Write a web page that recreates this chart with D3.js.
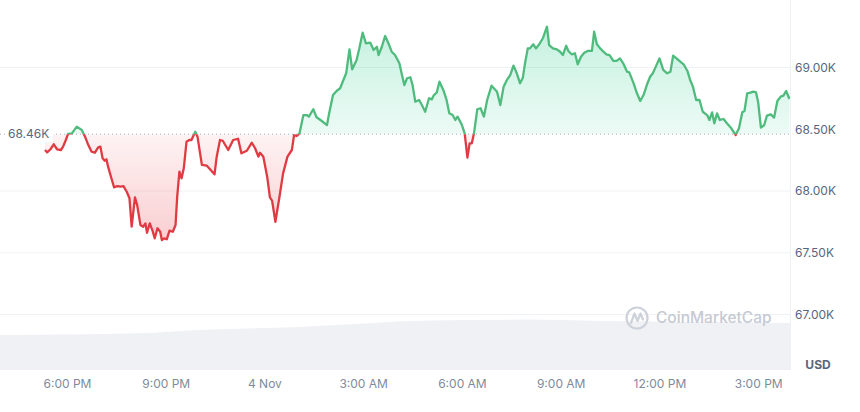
<!DOCTYPE html>
<html>
<head>
<meta charset="utf-8">
<script src="https://cdn.jsdelivr.net/npm/d3@7/dist/d3.min.js"></script>
<style>
  html, body { margin: 0; padding: 0; background: #fff; }
  svg { display: block; font-family: Inter, "Noto Sans", sans-serif; }
</style>
</head>
<body>
<svg id="chart" width="860" height="412"></svg>
<script>
// ---- data (minutes since 3 Nov 00:00 UTC) ----
const times = [1040,1044,1050,1056,1062,1069,1073,1078,1082,1089,1098,1107,1113,1119,1125,1131,1137,1141,1145,1149,1152,1155,1162,1166,1172,1178,1183,1189,1194,1198,1204,1208,1214,1219,1223,1226,1231,1236,1240,1245,1250,1253,1257,1262,1267,1273,1278,1281,1285,1289,1293,1298,1303,1307,1314,1318,1326,1335,1342,1349,1353,1359,1364,1374,1383,1392,1398,1408,1417,1423,1429,1432,1438,1445,1450,1454,1460,1467,1474,1482,1490,1494,1499,1504,1511,1517,1521,1529,1535,1544,1554,1558,1565,1572,1578,1584,1589,1595,1600,1608,1613,1619,1625,1633,1639,1645,1648,1654,1660,1666,1672,1678,1686,1690,1695,1700,1706,1710,1715,1722,1727,1733,1740,1745,1749,1754,1759,1766,1772,1777,1783,1788,1792,1797,1800,1805,1810,1814,1818,1822,1828,1834,1840,1846,1854,1864,1870,1876,1882,1888,1894,1900,1906,1911,1915,1920,1924,1930,1935,1941,1948,1955,1959,1966,1973,1979,1984,1990,1994,2000,2006,2011,2017,2023,2029,2037,2041,2046,2052,2058,2063,2069,2076,2082,2088,2094,2101,2105,2113,2119,2125,2131,2137,2143,2148,2152,2160,2167,2174,2180,2185,2191,2198,2204,2211,2216,2221,2227,2233,2239,2247,2251,2256,2260,2265,2270,2277,2283,2291,2299,2305,2311,2315,2320,2326,2331,2336,2340,2345,2351,2356,2363,2369,2375,2381,2386,2391,2397];
const prices = [68332,68313,68338,68378,68338,68332,68359,68413,68462,68467,68521,68494,68440,68372,68318,68310,68354,68359,68265,68245,68257,68197,68089,68030,68040,68035,68040,67994,67941,67711,67949,67887,67725,67711,67738,67662,67738,67679,67617,67698,67670,67603,67617,67609,67679,67670,67725,67954,68156,68103,68184,68399,68413,68413,68480,68440,68211,68205,68170,68135,68278,68413,68407,68332,68413,68423,68305,68326,68391,68346,68278,68310,68278,68116,67949,67921,67751,67941,68143,68278,68332,68453,68445,68467,68615,68615,68602,68662,68597,68569,68534,68629,68777,68812,68832,68899,68953,69147,68985,69061,69155,69282,69196,69201,69142,69168,69101,69168,69255,69196,69128,69101,69034,68953,68858,68913,68921,68858,68723,68737,68696,68642,68751,68742,68777,68796,68885,68818,68737,68629,68615,68575,68602,68561,68534,68467,68270,68386,68386,68467,68662,68670,68602,68737,68853,68804,68696,68845,68899,68939,69015,68953,68872,68917,69034,69155,69155,69188,69155,69188,69241,69330,69182,69155,69147,69128,69101,69176,69134,69107,69115,69026,69087,69120,69134,69134,69290,69188,69155,69128,69107,69101,69053,69053,69074,69034,68966,68961,68872,68791,68729,68777,68858,68925,68953,68993,69074,68980,68953,68966,69096,69074,69047,69026,68972,68899,68845,68737,68737,68642,68615,68575,68637,68548,68629,68575,68583,68548,68508,68453,68508,68637,68648,68791,68796,68804,68799,68718,68513,68534,68610,68621,68594,68729,68764,68772,68810,68745];
const baseline = 68460;
const volTimes = [958,1213,1323,1505,1742,1924,2052,2234,2398];
const volValues = [20.0,21.0,22.9,24.6,28.3,28.8,28.0,27.4,26.9];
const yTicks = [67000,67500,68000,68500,69000];
const xStart = 958, xEnd = 2398;

// ---- setup ----
const toDate = m => new Date(Date.UTC(2024,10,3,0,m));
const svg = d3.select("#chart");
const plotL = 0, plotR = 790;
const x = d3.scaleUtc().domain([toDate(xStart), toDate(xEnd)]).range([plotL, plotR]);
const y = d3.scaleLinear().domain([67000, 69000]).range([314.5, 67.5]);
const yv = d3.scaleLinear().domain([0, 40]).range([370, 300]);

const data = times.map((t,i) => ({d: toDate(t), v: prices[i]}));
const vol = volTimes.map((t,i) => ({d: toDate(t), v: volValues[i]}));
const by = y(baseline);

const defs = svg.append("defs");
const gG = defs.append("linearGradient").attr("id","gGreen").attr("x1",0).attr("x2",0)
  .attr("gradientUnits","userSpaceOnUse").attr("y1", y(69350)).attr("y2", by);
gG.append("stop").attr("offset",0).attr("stop-color","#16c784").attr("stop-opacity",0.25);
gG.append("stop").attr("offset",1).attr("stop-color","#16c784").attr("stop-opacity",0.08);
const gR = defs.append("linearGradient").attr("id","gRed").attr("x1",0).attr("x2",0)
  .attr("gradientUnits","userSpaceOnUse").attr("y1", by).attr("y2", y(67580));
gR.append("stop").attr("offset",0).attr("stop-color","#ea3943").attr("stop-opacity",0.06);
gR.append("stop").attr("offset",1).attr("stop-color","#ea3943").attr("stop-opacity",0.25);
defs.append("clipPath").attr("id","clipAbove").append("rect").attr("x",0).attr("y",0).attr("width",plotR).attr("height",by);
defs.append("clipPath").attr("id","clipBelow").append("rect").attr("x",0).attr("y",by).attr("width",plotR).attr("height",412-by);

// gridlines
svg.append("g").selectAll("line").data(yTicks.filter(t => Math.abs(y(t)-by) > 10)).join("line")
  .attr("x1", plotL).attr("x2", plotR).attr("y1", d => y(d)).attr("y2", d => y(d))
  .attr("stroke","#eff2f5").attr("stroke-width",1);

// volume
svg.append("path").datum(vol)
  .attr("d", d3.area().x(d => x(d.d)).y0(yv(0)).y1(d => yv(d.v)).curve(d3.curveMonotoneX))
  .attr("fill","#eff1f5");

// right border
svg.append("line").attr("x1",plotR+0.5).attr("x2",plotR+0.5).attr("y1",0).attr("y2",370)
  .attr("stroke","#eff2f5");

// area fills
const area = d3.area().x(d => x(d.d)).y0(by).y1(d => y(d.v));
svg.append("path").datum(data).attr("d", area).attr("fill","url(#gGreen)").attr("clip-path","url(#clipAbove)");
svg.append("path").datum(data).attr("d", area).attr("fill","url(#gRed)").attr("clip-path","url(#clipBelow)");

// baseline dotted
svg.append("line").attr("x1",0).attr("x2",plotR).attr("y1",by).attr("y2",by)
  .attr("stroke","#a6b0c3").attr("stroke-width",1).attr("stroke-dasharray","1,3");

// lines
const line = d3.line().x(d => x(d.d)).y(d => y(d.v));
svg.append("path").datum(data).attr("d", line).attr("fill","none").attr("stroke","#4fbb7d")
  .attr("stroke-width",2.3).attr("stroke-linejoin","round").attr("clip-path","url(#clipAbove)");
svg.append("path").datum(data).attr("d", line).attr("fill","none").attr("stroke","#e03a42")
  .attr("stroke-width",2.3).attr("stroke-linejoin","round").attr("clip-path","url(#clipBelow)");

// baseline label
const bl = svg.append("g");
bl.append("rect").attr("x",5).attr("y",by-8).attr("width",48).attr("height",16).attr("fill","#fff");
bl.append("text").attr("x",8).attr("y",by).attr("dy","0.35em").attr("font-size",12)
  .attr("fill","#58667e").text((baseline/1000).toFixed(2)+"K");

// y axis labels
const yAxis = d3.axisRight(y).tickValues(yTicks).tickSize(0).tickPadding(0)
  .tickFormat(d => (d/1000).toFixed(2)+"K");
const ya = svg.append("g").attr("transform",`translate(${plotR+5},0)`).call(yAxis);
ya.select(".domain").remove();
ya.selectAll("text").attr("font-size",12).attr("fill","#58667e").attr("font-family","Inter, sans-serif");
svg.append("text").attr("x",818).attr("y",365).attr("dy","0.35em").attr("text-anchor","middle")
  .attr("font-size",12).attr("font-weight",700).attr("fill","#58667e").text("USD");

// x axis labels
const fmt = d => d.getUTCHours() === 0 ? d3.utcFormat("%-d %b")(d) : d3.utcFormat("%-I:%M %p")(d);
const xAxis = d3.axisBottom(x).ticks(d3.utcHour.every(3)).tickSize(0).tickPadding(0).tickFormat(fmt);
const xa = svg.append("g").attr("transform","translate(0,384)").call(xAxis);
xa.select(".domain").remove();
xa.selectAll("text").attr("dy","0.35em").attr("font-size",12).attr("fill","#808a9d").attr("font-family","Inter, sans-serif");

// watermark
const wm = svg.append("g");
wm.append("circle").attr("cx",637).attr("cy",318).attr("r",10.5).attr("fill","none").attr("stroke","#cdd2da").attr("stroke-width",2.2);
wm.append("path").attr("d","M631,323 L634.5,313.5 L637.5,321 L640.5,313.5 L643,319.5")
  .attr("fill","none").attr("stroke","#cdd2da").attr("stroke-width",2.2).attr("stroke-linejoin","round").attr("stroke-linecap","round");
wm.append("text").attr("x",656).attr("y",318).attr("dy","0.35em").attr("font-size",15.5).attr("font-weight",500)
  .attr("fill","#c5cad3").text("CoinMarketCap");
</script>
</body>
</html>
